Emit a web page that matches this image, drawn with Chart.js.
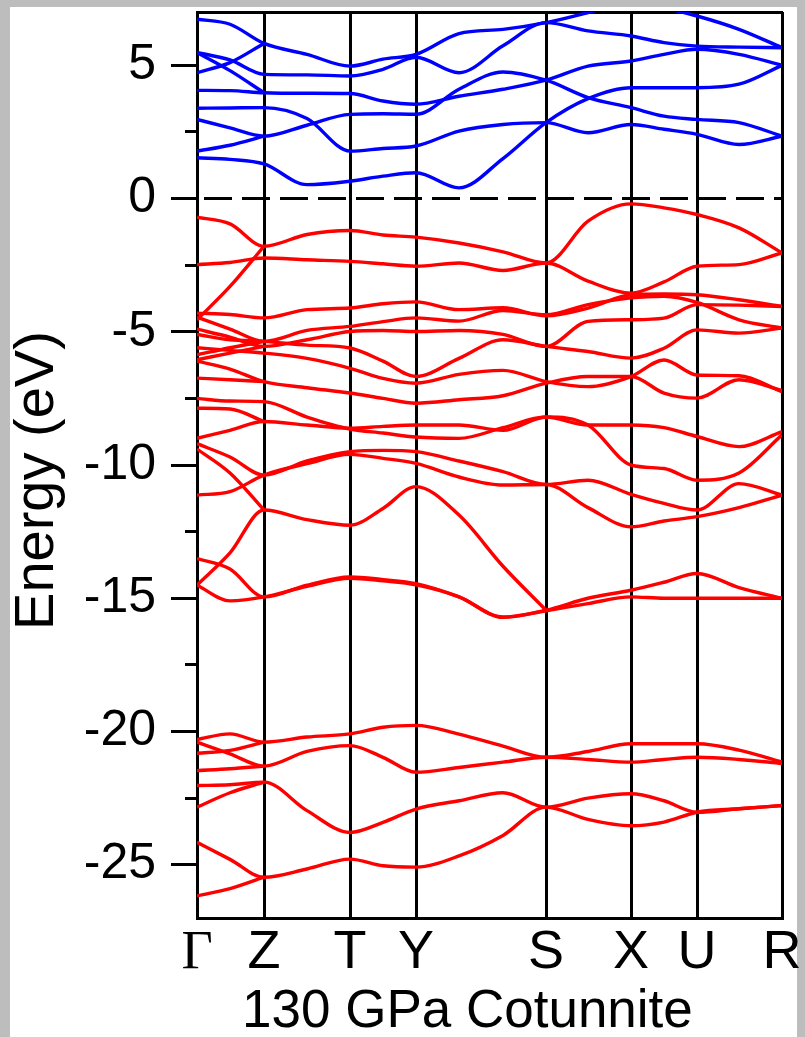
<!DOCTYPE html>
<html>
<head>
<meta charset="utf-8">
<script src="https://cdn.jsdelivr.net/npm/chart.js@4.4.1/dist/chart.umd.min.js"></script>
<style>
  html, body { margin: 0; padding: 0; background: #bdbdbd; }
  #frame { position: absolute; left: 10px; top: 7px; width: 787px; height: 1030px; background: #fff; }
  #bands { position: absolute; left: 0; top: 0; }
</style>
</head>
<body>
<div id="frame"></div>
<canvas id="bands" width="805" height="1037"></canvas>
<script>
// k-path distances (arbitrary units) where band energies were read
const kPath = [0, 33, 67, 110, 153, 186, 219, 262, 306, 349, 391, 434, 467, 500, 542, 585];
// high-symmetry points
const symK = [0, 67, 153, 219, 349, 434, 500, 585];
const symLabels = ['Γ', 'Z', 'T', 'Y', 'S', 'X', 'U', 'R'];
const fermiLevel = 0;

// conduction bands (eV), blue
const conduction = [
  [6.73, 6.54, 5.82, 5.41, 4.97, 5.23, 5.41, 6.19, 6.35, 6.60, 6.98, 7.40, 7.15, 6.85, 6.35, 5.66],
  [5.48, 5.20, 4.66, 4.64, 4.60, 4.85, 5.30, 4.72, 5.73, 6.60, 6.29, 6.10, 5.85, 5.72, 5.68, 5.66],
  [4.06, 4.05, 3.97, 3.95, 3.94, 3.66, 3.54, 3.84, 4.10, 4.44, 4.97, 5.16, 5.41, 5.60, 5.41, 5.00],
  [2.97, 2.65, 2.34, 2.75, 3.16, 3.18, 3.16, 4.10, 4.75, 4.44, 3.79, 3.41, 3.09, 2.97, 2.85, 2.34],
  [3.39, 3.40, 3.41, 3.00, 1.78, 1.88, 1.97, 2.53, 2.78, 2.85, 2.47, 2.78, 2.60, 2.41, 2.03, 2.34],
  [1.53, 1.47, 1.30, 0.52, 0.65, 0.84, 0.97, 0.40, 1.50, 2.85, 3.75, 4.16, 4.16, 4.16, 4.29, 5.00],
  [4.72, 5.10, 5.82],
  [5.48, 4.80, 3.97],
  [1.78, 2.00, 2.34]
];

// valence bands (eV), red
const valence = [
  [-0.70, -0.95, -1.79, -1.35, -1.20, -1.37, -1.45, -1.67, -2.00, -2.42, -0.85, -0.20, -0.35, -0.60, -1.10, -2.04],
  [-2.48, -2.40, -2.23, -2.30, -2.36, -2.45, -2.54, -2.42, -2.70, -2.42, -3.10, -3.55, -3.13, -2.54, -2.48, -2.04],
  [-4.55, -3.30, -1.79],
  [-4.30, -4.35, -4.48, -4.17, -4.11, -3.95, -3.88, -4.17, -4.10, -4.40, -4.11, -3.61, -3.58, -3.61, -3.80, -4.05],
  [-4.45, -4.90, -5.36, -4.95, -4.80, -4.62, -4.48, -4.60, -4.20, -4.36, -3.98, -3.73, -3.67, -3.90, -4.55, -4.86],
  [-4.90, -5.20, -5.55, -5.30, -4.99, -4.95, -4.99, -4.95, -5.10, -5.55, -4.61, -4.55, -4.49, -3.98, -4.00, -4.05],
  [-5.10, -5.30, -5.36, -5.50, -5.61, -6.10, -6.68, -6.00, -5.30, -5.55, -5.74, -5.99, -5.62, -4.93, -5.05, -4.86],
  [-5.60, -5.70, -5.80, -6.00, -6.37, -6.75, -6.93, -6.60, -6.45, -6.87, -7.06, -6.68, -6.06, -6.62, -6.65, -7.25],
  [-6.10, -6.40, -6.87, -7.10, -7.30, -7.50, -7.68, -7.55, -7.40, -6.93, -6.68, -6.68, -7.30, -7.49, -6.80, -7.20],
  [-9.00, -8.70, -8.37, -8.50, -8.62, -8.55, -8.50, -8.50, -8.70, -8.20, -8.50, -8.50, -8.60, -8.93, -9.31, -8.75],
  [-7.50, -7.60, -7.62, -8.20, -8.65, -8.80, -8.95, -9.00, -8.60, -8.20, -8.50, -10.00, -10.13, -10.57, -10.30, -8.87],
  [-6.74, -6.80, -6.87],
  [-7.87, -7.90, -8.37],
  [-5.86, -5.60, -5.36],
  [-6.05, -5.80, -5.55],
  [-9.20, -9.70, -10.38, -9.85, -9.50, -9.45, -9.50, -9.85, -10.25, -10.73, -10.57, -11.10, -11.44, -11.69, -10.70, -11.13],
  [-11.13, -11.00, -10.38, -9.95, -9.60, -9.75, -9.94, -10.45, -10.75, -10.73, -11.60, -12.32, -12.10, -11.94, -11.60, -11.13],
  [-9.40, -10.30, -11.69],
  [-14.51, -13.30, -11.69, -12.05, -12.26, -11.63, -10.81, -11.88, -13.80, -15.45],
  [-13.51, -13.90, -14.95, -14.51, -14.20, -14.30, -14.45, -14.95, -15.70, -15.45, -15.00, -14.70, -14.40, -14.07, -14.60, -15.00],
  [-14.51, -15.10, -14.95, -14.55, -14.25, -14.35, -14.50, -14.95, -15.72, -15.47, -15.20, -14.95, -15.00, -15.00, -15.00, -15.00],
  [-20.30, -20.09, -20.40, -20.21, -20.09, -19.84, -19.77, -20.10, -20.55, -20.97, -20.75, -20.46, -20.46, -20.46, -20.70, -21.15],
  [-20.40, -20.84, -21.30, -20.75, -20.53, -20.97, -21.53, -21.35, -21.15, -20.97, -21.05, -21.15, -21.05, -20.97, -21.05, -21.20],
  [-20.82, -20.71, -20.40],
  [-21.47, -21.40, -21.30],
  [-22.03, -22.00, -21.90, -22.97, -23.79, -23.41, -22.91, -22.60, -22.30, -22.84, -22.50, -22.34, -22.60, -23.03, -22.90, -22.78],
  [-22.84, -22.30, -21.90],
  [-24.16, -24.80, -25.47, -25.16, -24.79, -25.04, -25.09, -24.67, -23.90, -22.84, -23.30, -23.54, -23.40, -23.03, -22.90, -22.78],
  [-26.17, -25.90, -25.47]
];

const sans = "'Liberation Sans', Arial, Helvetica, sans-serif";
const serif = "'Liberation Serif', 'Times New Roman', serif";

function toPoints(band) {
  return band.map((e, i) => ({ x: kPath[i], y: e }));
}

const datasets = [{
  data: [{ x: kPath[0], y: fermiLevel }, { x: kPath[kPath.length - 1], y: fermiLevel }],
  borderColor: '#000',
  borderWidth: 3,
  borderDash: [28, 10],
  borderDashOffset: 31,
  cubicInterpolationMode: 'default',
  tension: 0
}];
conduction.forEach(b => datasets.push({ data: toPoints(b), borderColor: '#0000ff' }));
valence.forEach(b => datasets.push({ data: toPoints(b), borderColor: '#ff0000' }));

new Chart(document.getElementById('bands'), {
  type: 'line',
  data: { datasets },
  options: {
    responsive: false,
    animation: false,
    devicePixelRatio: 1,
    layout: { padding: { left: 10, top: 12, right: 23, bottom: 0 } },
    elements: {
      point: { radius: 0 },
      line: { borderWidth: 3.4, cubicInterpolationMode: 'monotone', fill: false }
    },
    plugins: { legend: { display: false }, tooltip: { enabled: false } },
    scales: {
      x: {
        type: 'linear', min: 0, max: 585, position: 'bottom',
        grid: { color: '#000', lineWidth: 3, drawTicks: false },
        border: { color: '#000', width: 3 },
        ticks: {
          autoSkip: false, maxRotation: 0, padding: 3, color: '#000',
          font: c => ({ family: c.index === 0 ? serif : sans, size: 54 }),
          callback: (v, i) => symLabels[i]
        },
        afterBuildTicks: s => { s.ticks = symK.map(v => ({ value: v })); },
        afterFit: s => { s.height = 119; s.paddingLeft = 0; s.paddingRight = 0; },
        title: {
          display: true, text: '130 GPa Cotunnite   ', color: '#000', padding: 0,
          font: { family: sans, size: 53, lineHeight: 0.94 }
        }
      },
      xTop: {
        type: 'linear', min: 0, max: 585, position: 'top',
        grid: { display: false }, ticks: { display: false },
        border: { color: '#000', width: 3 },
        afterFit: s => { s.height = 0; s.paddingLeft = 0; s.paddingRight = 0; }
      },
      y: {
        type: 'linear', min: -27, max: 7, position: 'left', weight: 1,
        ticks: { stepSize: 5, includeBounds: false, padding: 15, color: '#000', font: { family: sans, size: 50 } },
        grid: { drawOnChartArea: false, color: '#000', lineWidth: 3, tickLength: 26, tickWidth: 3 },
        border: { color: '#000', width: 3 },
        title: {
          display: true, text: 'Energy (eV)  ', color: '#000', padding: 0,
          font: { family: sans, size: 56, lineHeight: 1 }
        },
        afterFit: s => { s.width = 187; s.paddingTop = 0; s.paddingBottom = 0; }
      },
      yMinor: {
        type: 'linear', min: -27, max: 7, position: 'left', weight: 0,
        ticks: { display: false, stepSize: 2.5, includeBounds: false },
        grid: { drawOnChartArea: false, color: '#000', tickLength: 12, tickWidth: 3 },
        border: { display: false },
        afterFit: s => { s.width = 0; s.paddingTop = 0; s.paddingBottom = 0; }
      }
    }
  }
});
</script>
</body>
</html>
